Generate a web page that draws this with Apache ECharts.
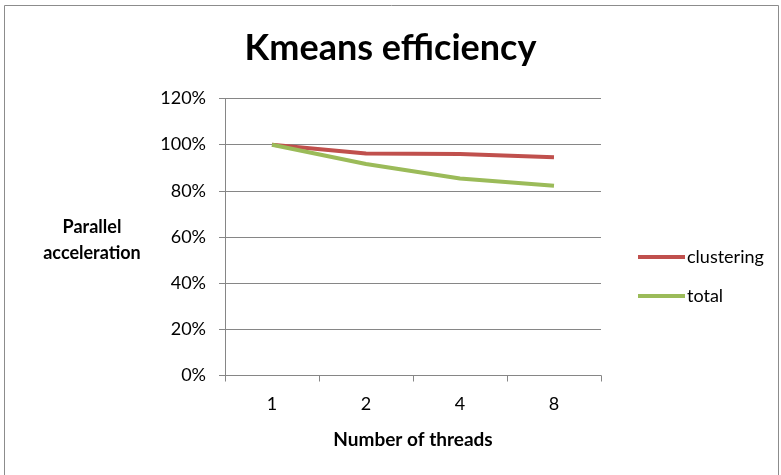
<!DOCTYPE html>
<html>
<head>
<meta charset="utf-8">
<script src="https://cdn.jsdelivr.net/npm/echarts@6/dist/echarts.min.js"></script>
<style>
	html, body { margin: 0; padding: 0; background: #fff; }
	#chart { width: 781px; height: 475px; }
</style>
</head>
<body>
<div id="chart"></div>
<script>
// chart data
const threads = ['1', '2', '4', '8']
const clustering = [100, 96.2, 96, 94.5]
const total = [100, 91.6, 85.3, 82.2]
const yTicks = [0, 20, 40, 60, 80, 100, 120]

const fontFamily = 'Lato, "Open Sans", sans-serif'
const axisGray = '#868686'

const myEchart = echarts.init(document.getElementById('chart'))
const option = {
	backgroundColor: '#fff',
	textStyle: { fontFamily: fontFamily },
	graphic: [
		{
			type: 'rect',
			shape: { x: 4.5, y: 5.5, width: 774, height: 500 },
			style: { fill: 'none', stroke: '#8c8c8c', lineWidth: 1 },
			silent: true
		},
		{
			// y axis title, placed beside the axis as in the original
			type: 'text',
			x: 92,
			y: 214,
			style: {
				text: 'Parallel\nacceleration',
				align: 'center',
				fontFamily: fontFamily,
				fontSize: 18,
				fontWeight: 'bold',
				lineHeight: 26,
				fill: '#000'
			},
			silent: true
		}
	],
	title: {
		text: 'Kmeans efficiency',
		left: 'center',
		top: 25,
		textStyle: {
			fontFamily: fontFamily,
			fontSize: 36,
			fontWeight: 'bold',
			color: '#000'
		}
	},
	legend: {
		orient: 'vertical',
		left: 633,
		top: 243,
		itemGap: 21,
		itemWidth: 47,
		itemHeight: 4,
		icon: 'rect',
		textStyle: { fontSize: 18, color: '#000', padding: [0, 0, 0, -3] },
		data: ['clustering', 'total']
	},
	grid: {
		left: 225,
		right: 180,
		top: 98.5,
		bottom: 99.5
	},
	xAxis: {
		type: 'category',
		data: threads,
		boundaryGap: true,
		name: 'Number of threads',
		nameLocation: 'middle',
		nameGap: 55,
		nameTextStyle: { fontSize: 19, fontWeight: 'bold', color: '#000' },
		axisLine: { lineStyle: { color: axisGray } },
		axisTick: { show: true, length: 6, lineStyle: { color: axisGray } },
		axisLabel: { fontSize: 18, color: '#000', margin: 20 }
	},
	yAxis: {
		type: 'value',
		min: yTicks[0],
		max: yTicks[yTicks.length - 1],
		interval: 20,
		axisLine: { show: true, lineStyle: { color: axisGray } },
		axisTick: { show: true, length: 6, lineStyle: { color: axisGray } },
		axisLabel: {
			fontSize: 18,
			color: '#000',
			margin: 19,
			formatter: v => v + '%'
		},
		splitLine: { show: true, lineStyle: { color: axisGray, width: 1 } }
	},
	series: [
		{
			name: 'clustering',
			type: 'line',
			showSymbol: false,
			color: '#c0504d',
			lineStyle: { width: 4 },
			data: clustering
		},
		{
			name: 'total',
			type: 'line',
			showSymbol: false,
			color: '#9bbb59',
			lineStyle: { width: 4 },
			data: total
		}
	]
}
myEchart.setOption(option)
</script>
</body>
</html>
